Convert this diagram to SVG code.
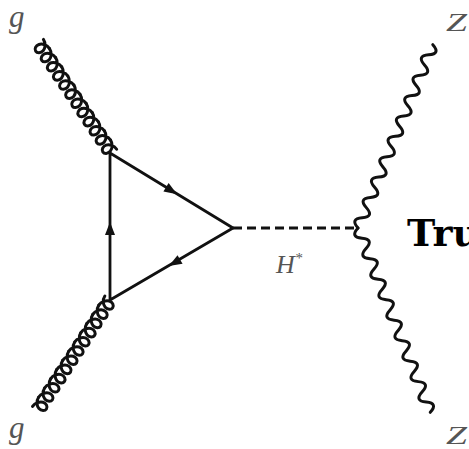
<svg xmlns="http://www.w3.org/2000/svg" xmlns:xlink="http://www.w3.org/1999/xlink" width="469" height="449" viewBox="0 0 469 449">
<style>
.ln{fill:none;stroke:#111;stroke-width:2.8;stroke-linecap:round;stroke-linejoin:round}
.coil{fill:none;stroke:#111;stroke-width:3;stroke-linecap:round}
.dash{fill:none;stroke:#111;stroke-width:2.8;stroke-dasharray:9 5}
.arrow{fill:#111}
.lbl{font-family:"Liberation Serif","DejaVu Serif",serif;font-style:italic;fill:#555}
.big{font-family:"DejaVu Serif","Liberation Serif",serif;font-weight:bold;fill:#000}
</style>
<defs>
<path id="coil" d="M0,-6.5 c4.32,0 8.33,3.1 9.25,6.5 c0.92,3.4 -1.26,6.5 -3.75,6.5 c-2.49,0 -4.67,-3.1 -3.75,-6.5 c0.92,-3.4 4.93,-6.5 9.25,-6.5"/>
<path id="arr" d="M-7,-5 L6,0 L-7,5 Z"/>
</defs>
<rect width="469" height="449" fill="#fff"/>
<g id="connectors">
<g id="gluon-top" class="coil" transform="translate(38,43) rotate(56.3)">
<use xlink:href="#coil" x="0"/><use xlink:href="#coil" x="11"/><use xlink:href="#coil" x="22"/><use xlink:href="#coil" x="33"/><use xlink:href="#coil" x="44"/><use xlink:href="#coil" x="55"/><use xlink:href="#coil" x="66"/><use xlink:href="#coil" x="77"/><use xlink:href="#coil" x="88"/><use xlink:href="#coil" x="99"/><use xlink:href="#coil" x="110"/><use xlink:href="#coil" x="121"/>
</g>
<g id="gluon-bottom" class="coil" transform="translate(38,410) rotate(-56.8)">
<use xlink:href="#coil" x="0"/><use xlink:href="#coil" x="11"/><use xlink:href="#coil" x="22"/><use xlink:href="#coil" x="33"/><use xlink:href="#coil" x="44"/><use xlink:href="#coil" x="55"/><use xlink:href="#coil" x="66"/><use xlink:href="#coil" x="77"/><use xlink:href="#coil" x="88"/><use xlink:href="#coil" x="99"/><use xlink:href="#coil" x="110"/><use xlink:href="#coil" x="121"/>
</g>
<path id="loop" class="ln" d="M110,153 L233,228 L110,300 Z"/>
<use class="arrow" xlink:href="#arr" transform="translate(172,191) rotate(31.4)"/>
<use class="arrow" xlink:href="#arr" transform="translate(174,263) rotate(149.7)"/>
<use class="arrow" xlink:href="#arr" transform="translate(110,228) rotate(-90)"/>
<path id="higgs" class="dash" d="M233,228 L358,228"/>
<path id="z-top" class="coil" transform="translate(358,228) rotate(-67.8)" d="M0,0 q5.5,-11 11,0 t11,0 t11,0 t11,0 t11,0 t11,0 t11,0 t11,0 t11,0 t11,0 t11,0 t11,0 t11,0 t11,0 t11,0 t11,0 t11,0 t11,0"/>
<path id="z-bottom" class="coil" transform="translate(358,228) rotate(68.6)" d="M0,0 q5.5,11 11,0 t11,0 t11,0 t11,0 t11,0 t11,0 t11,0 t11,0 t11,0 t11,0 t11,0 t11,0 t11,0 t11,0 t11,0 t11,0 t11,0 t11,0"/>
</g>
<g id="label-g-top"><text class="lbl" x="9" y="27" font-size="31">g</text></g>
<g id="label-g-bottom"><text class="lbl" x="9" y="438" font-size="31">g</text></g>
<g id="label-z-top"><text class="lbl" x="446" y="31" font-size="26" textLength="21" lengthAdjust="spacingAndGlyphs">Z</text></g>
<g id="label-z-bottom"><text class="lbl" x="446" y="444" font-size="26" textLength="21" lengthAdjust="spacingAndGlyphs">Z</text></g>
<g id="label-h"><text class="lbl" x="276" y="273" font-size="26">H<tspan font-size="15" dy="-10">*</tspan></text></g>
<g id="label-tru"><text class="big" x="407" y="246" font-size="38">Tru</text></g>
</svg>
